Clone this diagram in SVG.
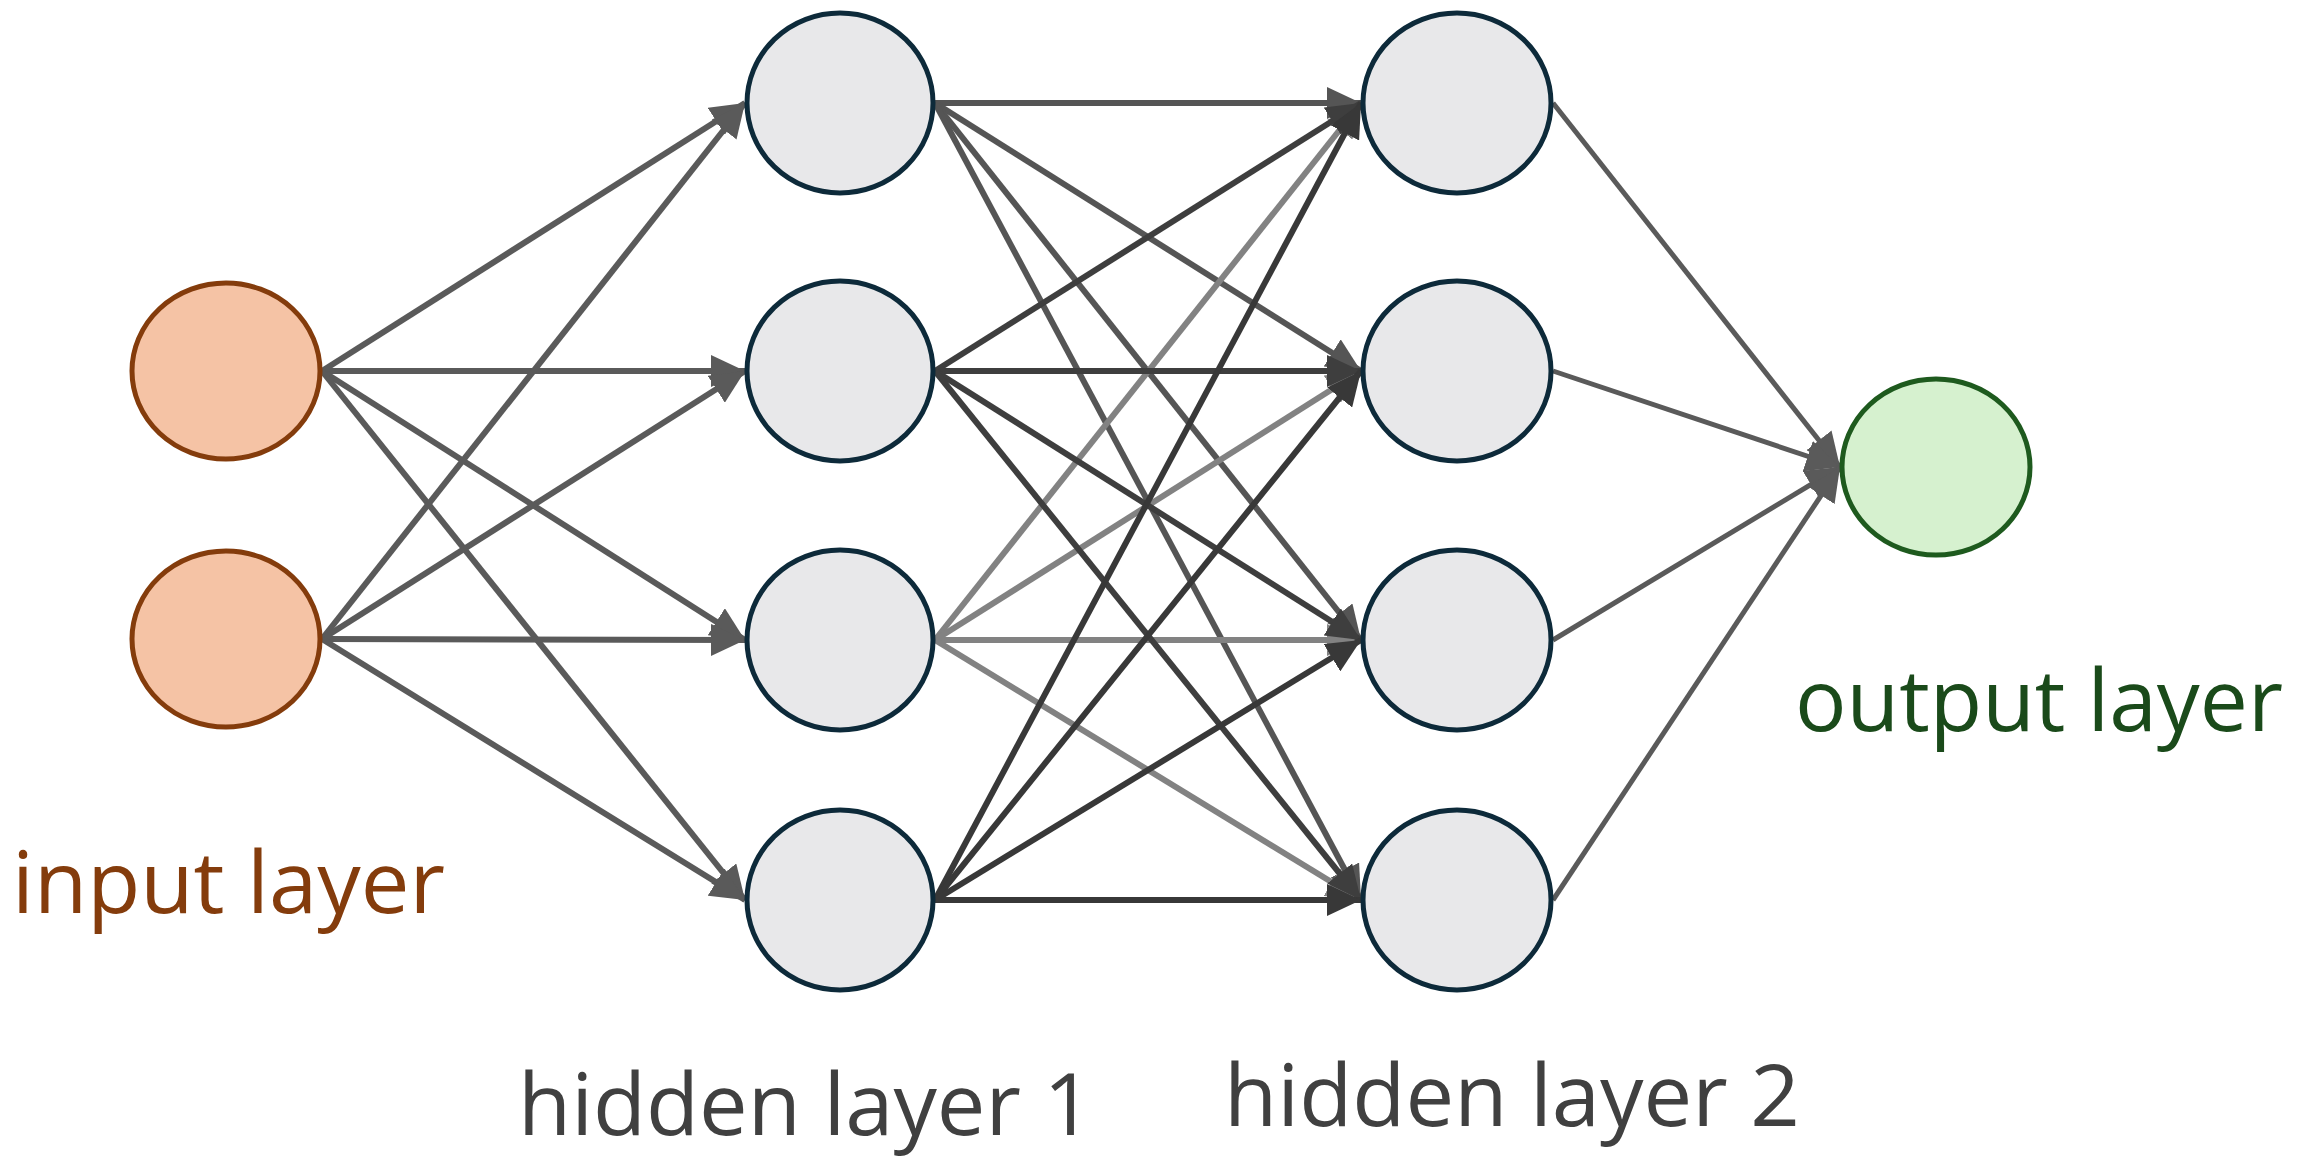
<svg xmlns="http://www.w3.org/2000/svg" width="2310" height="1170" viewBox="0 0 2310 1170">
<style>
.lbl{font-family:"Open Sans","Noto Sans",sans-serif;font-size:86px}
.in{fill:#f5c3a5;stroke:#843c0c;stroke-width:5}
.hid{fill:#e8e8ea;stroke:#0d2a3a;stroke-width:5}
.out{fill:#d6f1cf;stroke:#1e5a1e;stroke-width:5}
.e{fill:none;stroke-width:6}
.c1{stroke:#5a5a5a;marker-end:url(#a1)}
.c2{stroke:#555555;marker-end:url(#a2)}
.c3{stroke:#3e3e3e;marker-end:url(#a3)}
.c4{stroke:#828282;marker-end:url(#a4)}
.c5{stroke:#383838;marker-end:url(#a5)}
.c6{stroke:#5a5a5a;stroke-width:5;marker-end:url(#a1)}
</style>
<defs>
<marker id="a1" markerUnits="userSpaceOnUse" markerWidth="36" markerHeight="32" refX="34" refY="16" orient="auto"><path d="M0,0 L34,16 L0,32 z" fill="#5a5a5a"/></marker>
<marker id="a2" markerUnits="userSpaceOnUse" markerWidth="36" markerHeight="32" refX="34" refY="16" orient="auto"><path d="M0,0 L34,16 L0,32 z" fill="#555555"/></marker>
<marker id="a3" markerUnits="userSpaceOnUse" markerWidth="36" markerHeight="32" refX="34" refY="16" orient="auto"><path d="M0,0 L34,16 L0,32 z" fill="#3e3e3e"/></marker>
<marker id="a4" markerUnits="userSpaceOnUse" markerWidth="36" markerHeight="32" refX="34" refY="16" orient="auto"><path d="M0,0 L34,16 L0,32 z" fill="#828282"/></marker>
<marker id="a5" markerUnits="userSpaceOnUse" markerWidth="36" markerHeight="32" refX="34" refY="16" orient="auto"><path d="M0,0 L34,16 L0,32 z" fill="#383838"/></marker>
</defs>
<rect width="2310" height="1170" fill="#ffffff"/>
<g id="connectors">
<!-- input -> hidden 1 -->
<line class="e c1" x1="322" y1="371" x2="745" y2="103"/>
<line class="e c1" x1="322" y1="371" x2="745" y2="371"/>
<line class="e c1" x1="322" y1="371" x2="745" y2="640"/>
<line class="e c1" x1="322" y1="371" x2="745" y2="900"/>
<line class="e c1" x1="322" y1="639" x2="745" y2="103"/>
<line class="e c1" x1="322" y1="639" x2="745" y2="371"/>
<line class="e c1" x1="322" y1="639" x2="745" y2="640"/>
<line class="e c1" x1="322" y1="639" x2="745" y2="900"/>
<!-- hidden 1 row 1 -> hidden 2 -->
<line class="e c2" x1="935" y1="103" x2="1361" y2="103"/>
<line class="e c2" x1="935" y1="103" x2="1361" y2="371"/>
<line class="e c2" x1="935" y1="103" x2="1361" y2="640"/>
<line class="e c2" x1="935" y1="103" x2="1361" y2="900"/>
<!-- hidden 1 row 3 -> hidden 2 -->
<line class="e c4" x1="935" y1="640" x2="1361" y2="103"/>
<line class="e c4" x1="935" y1="640" x2="1361" y2="371"/>
<line class="e c4" x1="935" y1="640" x2="1361" y2="640"/>
<line class="e c4" x1="935" y1="640" x2="1361" y2="900"/>
<!-- hidden 1 row 2 -> hidden 2 -->
<line class="e c3" x1="935" y1="371" x2="1361" y2="103"/>
<line class="e c3" x1="935" y1="371" x2="1361" y2="371"/>
<line class="e c3" x1="935" y1="371" x2="1361" y2="640"/>
<line class="e c3" x1="935" y1="371" x2="1361" y2="900"/>
<!-- hidden 1 row 4 -> hidden 2 -->
<line class="e c5" x1="935" y1="900" x2="1361" y2="103"/>
<line class="e c5" x1="935" y1="900" x2="1361" y2="371"/>
<line class="e c5" x1="935" y1="900" x2="1361" y2="640"/>
<line class="e c5" x1="935" y1="900" x2="1361" y2="900"/>
<!-- hidden 2 -> output -->
<line class="e c6" x1="1553" y1="103" x2="1840" y2="467"/>
<line class="e c6" x1="1553" y1="371" x2="1840" y2="467"/>
<line class="e c6" x1="1553" y1="640" x2="1840" y2="467"/>
<line class="e c6" x1="1553" y1="900" x2="1840" y2="467"/>
</g>
<g id="input1"><ellipse class="in" cx="226" cy="371" rx="94" ry="88"/></g>
<g id="input2"><ellipse class="in" cx="226" cy="639" rx="94" ry="88"/></g>
<g id="h1n1"><ellipse class="hid" cx="840" cy="103" rx="93" ry="90"/></g>
<g id="h1n2"><ellipse class="hid" cx="840" cy="371" rx="93" ry="90"/></g>
<g id="h1n3"><ellipse class="hid" cx="840" cy="640" rx="93" ry="90"/></g>
<g id="h1n4"><ellipse class="hid" cx="840" cy="900" rx="93" ry="90"/></g>
<g id="h2n1"><ellipse class="hid" cx="1457" cy="103" rx="94" ry="90"/></g>
<g id="h2n2"><ellipse class="hid" cx="1457" cy="371" rx="94" ry="90"/></g>
<g id="h2n3"><ellipse class="hid" cx="1457" cy="640" rx="94" ry="90"/></g>
<g id="h2n4"><ellipse class="hid" cx="1457" cy="900" rx="94" ry="90"/></g>
<g id="output"><ellipse class="out" cx="1936" cy="467" rx="94" ry="88"/></g>
<g id="labels">
<text class="lbl" x="12" y="913" fill="#843c0c" textLength="433" lengthAdjust="spacingAndGlyphs">input layer</text>
<text class="lbl" x="518" y="1135" fill="#404040" textLength="575" lengthAdjust="spacingAndGlyphs">hidden layer 1</text>
<text class="lbl" x="1224" y="1126" fill="#404040" textLength="576" lengthAdjust="spacingAndGlyphs">hidden layer 2</text>
<text class="lbl" x="1795" y="731" fill="#1a4a1a" textLength="488" lengthAdjust="spacingAndGlyphs">output layer</text>
</g>
</svg>
